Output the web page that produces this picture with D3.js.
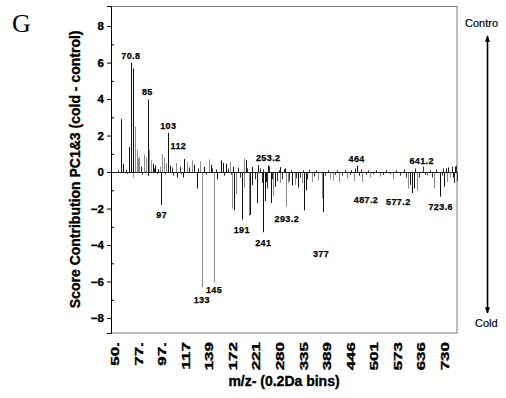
<!DOCTYPE html>
<html>
<head>
<meta charset="utf-8">
<script src="https://cdn.jsdelivr.net/npm/d3@7"></script>
<style>
  body { margin: 0; background: #fff; }
  svg { display: block; }
  text { font-family: "Liberation Sans", Arial, sans-serif; fill: #000; }
  .heavy { stroke: #000; stroke-width: 0.35px; }
</style>
</head>
<body>
<div id="chart"></div>
<script>
// bin positions: one tick label every 10 units
const xTickLabels = ["50.", "77.", "97.", "117", "139", "172", "221", "280", "335", "389", "446", "501", "573", "636", "730"];
const xTickPos = [0, 10, 20, 30, 40, 50, 60, 70, 80, 90, 100, 110, 120, 130, 140];
const yTicks = [-8, -6, -4, -2, 0, 2, 4, 6, 8];

// [bin, score, shade] ; d = dark, g = grey
const upBars = [
  [2.4, 2.9, "d"], [3.5, 0.45, "d"], [6.1, 1.37, "d"], [6.7, 6.0, "d"], [7.8, 5.67, "d"],
  [8.5, 2.5, "g"], [9.2, 1.2, "g"], [9.9, 0.75, "g"], [10.3, 0.8, "g"], [12.4, 0.97, "g"],
  [13.2, 0.8, "g"], [13.9, 3.97, "d"], [14.6, 1.19, "g"], [15.1, 0.64, "g"], [16.0, 0.45, "d"],
  [17.0, 0.37, "d"], [19.1, 0.3, "g"], [20.1, 0.97, "g"], [20.8, 0.8, "g"], [21.6, 0.5, "g"],
  [22.6, 2.15, "d"], [23.3, 0.35, "d"], [25.9, 0.5, "g"], [29.4, 0.72, "d"], [30.7, 0.55, "g"],
  [32.8, 0.64, "g"], [33.5, 0.4, "d"], [36.1, 0.58, "g"], [37.9, 0.3, "d"], [39.9, 0.7, "g"],
  [40.6, 0.4, "d"], [44.8, 0.64, "d"], [45.7, 0.5, "d"], [47.1, 0.45, "d"], [48.8, 0.55, "g"],
  [50.2, 0.3, "d"], [54.7, 0.75, "g"], [55.5, 0.65, "d"], [58.0, 0.27, "d"], [60.8, 0.37, "d"],
  [64.8, 0.37, "d"], [70.0, 0.27, "d"], [72.1, 0.2, "d"], [102.8, 0.35, "d"], [140.3, 0.2, "d"],
  [141.4, 0.25, "d"], [144.3, 0.3, "d"]
];
const downBars = [
  [7.8, -0.3, "g"], [13.9, -0.2, "d"], [19.5, -1.8, "d"], [26.4, -0.3, "d"], [29.0, -0.3, "d"],
  [34.7, -0.9, "d"], [36.8, -6.3, "g"], [42.1, -6.05, "g"], [43.4, -0.4, "d"], [49.8, -2.0, "g"],
  [50.4, -2.1, "d"], [51.2, -1.2, "g"], [53.8, -2.6, "d"], [54.9, -0.85, "g"], [56.9, -2.4, "g"],
  [57.3, -2.35, "d"], [58.2, -0.72, "d"], [60.1, -1.7, "d"], [62.9, -3.3, "d"], [63.6, -1.6, "d"],
  [64.1, -0.55, "d"], [66.1, -1.7, "d"], [67.2, -1.3, "g"], [67.9, -0.8, "d"], [70.2, -0.6, "g"],
  [72.6, -1.9, "g"], [73.5, -0.6, "g"], [75.2, -0.75, "d"], [76.4, -0.7, "g"], [77.5, -0.85, "d"],
  [79.2, -0.6, "g"], [80.3, -2.1, "d"], [80.9, -1.0, "d"], [83.5, -0.55, "g"], [86.3, -0.45, "g"],
  [87.7, -1.45, "g"], [88.1, -2.2, "d"], [91.2, -0.4, "g"], [92.3, -0.45, "g"], [95.0, -0.55, "g"],
  [98.6, -0.35, "g"], [101.4, -0.5, "g"], [105.0, -0.55, "g"], [108.2, -0.3, "g"], [112.4, -0.25, "g"],
  [117.8, -0.4, "g"], [124.4, -0.9, "g"], [125.2, -0.7, "d"], [126.0, -1.15, "d"], [126.9, -0.9, "d"],
  [128.0, -1.0, "g"], [132.3, -0.2, "g"], [135.5, -0.9, "g"], [137.7, -1.35, "d"], [139.6, -0.8, "d"],
  [140.7, -0.55, "g"], [142.1, -0.3, "g"], [143.5, -0.3, "d"]
];
// small peaks along the baseline
const baseFuzz = [
  [1.2, 0.1], [4.5, 0.12], [5.2, -0.1], [11.0, 0.3], [11.6, -0.15], [16.5, 0.2], [17.8, -0.1],
  [18.4, 0.15], [21.0, -0.12], [24.0, 0.25], [24.6, -0.2], [27.5, 0.3], [28.2, -0.1], [31.5, 0.25],
  [35.3, 0.2], [38.6, -0.15], [41.3, 0.2], [43.0, 0.15], [46.4, -0.2], [47.8, 0.2], [49.3, -0.15],
  [52.0, 0.25], [53.0, -0.3], [56.2, 0.2], [59.2, -0.4], [61.5, 0.2], [62.2, -0.6], [63.0, 0.15],
  [64.3, -0.9], [65.4, 0.3], [66.6, -0.4], [68.6, -0.5], [69.4, 0.1], [71.0, -0.4], [71.8, 0.15],
  [74.0, -0.5], [74.6, 0.1], [76.9, -0.35], [78.4, -0.3], [79.8, 0.1], [81.5, -0.4], [82.4, 0.12],
  [84.5, -0.25], [85.2, 0.1], [89.3, -0.2], [90.2, 0.1], [93.5, -0.15], [94.3, 0.1], [96.2, -0.2],
  [97.5, 0.12], [99.5, -0.15], [100.3, 0.1], [101.9, 0.2], [103.6, -0.2], [104.2, 0.15], [106.3, -0.15],
  [107.2, 0.1], [109.5, -0.12], [110.6, 0.1], [113.5, -0.15], [115.0, 0.1], [116.5, -0.12], [119.3, 0.1],
  [120.8, -0.2], [122.5, 0.15], [123.4, -0.3], [127.2, 0.2], [129.0, -0.3], [130.8, 0.3], [131.4, -0.15],
  [133.5, 0.1], [134.4, -0.3], [136.4, 0.15], [138.6, -0.2], [139.2, 0.2], [141.0, -0.5], [142.8, 0.3],
  [143.9, -0.6], [144.6, 0.35], [145.0, -0.5]
];
// [text, bin, score] where the peak label sits
const peakLabels = [
  ["70.8", 6.7, 6.36], ["85", 13.7, 4.38], ["103", 22.6, 2.54], ["112", 26.9, 1.42],
  ["253.2", 65.0, 0.78], ["464", 102.5, 0.75], ["641.2", 130.1, 0.6], ["97", 19.8, -2.36],
  ["133", 36.8, -6.98], ["145", 42.0, -6.43], ["191", 53.8, -3.18], ["241", 62.9, -3.9],
  ["293.2", 72.9, -2.54], ["377", 87.4, -4.49], ["487.2", 106.5, -1.5], ["577.2", 120.2, -1.63],
  ["723.6", 138.2, -1.9]
];

const W = 506, H = 398;
const margin = { left: 111, top: 6 };
const width = 346, height = 327;

const svg = d3.select("#chart").append("svg")
  .attr("width", W)
  .attr("height", H);

svg.append("text")
  .attr("x", 12).attr("y", 32)
  .style("font-family", "'Liberation Serif', 'Times New Roman', serif")
  .style("font-size", "26px")
  .text("G");

const g = svg.append("g")
  .attr("transform", "translate(" + margin.left + "," + margin.top + ")");

const x = d3.scaleLinear().domain([-1.7, 145.1]).range([0, width]);
const y = d3.scaleLinear().domain([-8.82, 9.1]).range([height, 0]);

// frame
g.append("rect")
  .attr("x", 0.5).attr("y", 0.5)
  .attr("width", width - 0.5).attr("height", height - 0.5)
  .attr("fill", "none")
  .attr("stroke", "#7a7a7a");

// Y axis
const yAxis = g.append("g")
  .call(d3.axisLeft(y).tickValues(yTicks).tickSize(4).tickFormat(d3.format("d")));
yAxis.select(".domain").attr("stroke", "#000");
yAxis.selectAll("text")
  .attr("class", "heavy")
  .style("font-size", "11.5px")
  .style("font-weight", "bold")
  .attr("x", -7);
g.append("g")
  .call(d3.axisLeft(y).tickValues([-7, -5, -3, -1, 1, 3, 5, 7]).tickSize(-3).tickFormat(""))
  .select(".domain").remove();

// X tick labels (rotated, stretched along the reading direction)
g.selectAll(".xlab")
  .data(xTickPos)
  .enter()
  .append("text")
  .attr("class", "xlab heavy")
  .attr("transform", (d) => "translate(" + (x(d) + 4) + "," + (height + 9) + ") rotate(-90) scale(1.7,1)")
  .attr("text-anchor", "end")
  .style("font-size", "10px")
  .style("font-weight", "bold")
  .text((d, i) => xTickLabels[i]);

// bars
const shadeColor = { d: "#111", g: "#8c8c8c" };
const bars = g.append("g");
bars.selectAll(".fuzz")
  .data(baseFuzz)
  .enter()
  .append("line")
  .attr("x1", (d) => Math.round(x(d[0])) + 0.5)
  .attr("x2", (d) => Math.round(x(d[0])) + 0.5)
  .attr("y1", y(0))
  .attr("y2", (d) => y(d[1]))
  .attr("stroke", "#333");
bars.selectAll(".bar")
  .data(upBars.concat(downBars))
  .enter()
  .append("line")
  .attr("class", "bar")
  .attr("x1", (d) => Math.round(x(d[0])) + 0.5)
  .attr("x2", (d) => Math.round(x(d[0])) + 0.5)
  .attr("y1", y(0))
  .attr("y2", (d) => y(d[1]))
  .attr("stroke", (d) => shadeColor[d[2]]);

// zero line
g.append("line")
  .attr("x1", 0).attr("x2", width)
  .attr("y1", Math.round(y(0)) + 0.5).attr("y2", Math.round(y(0)) + 0.5)
  .attr("stroke", "#222");

// peak labels
g.selectAll(".peak")
  .data(peakLabels)
  .enter()
  .append("text")
  .attr("class", "peak heavy")
  .attr("x", (d) => x(d[1]))
  .attr("y", (d) => y(d[2]))
  .attr("dy", "0.35em")
  .attr("text-anchor", "middle")
  .style("font-size", "9px")
  .style("font-weight", "bold")
  .style("letter-spacing", "0.4px")
  .style("stroke-width", "0.25px")
  .text((d) => d[0]);

// axis titles
svg.append("text")
  .attr("class", "heavy")
  .attr("transform", "translate(80," + (margin.top + y(0.15)) + ") rotate(-90)")
  .attr("text-anchor", "middle")
  .style("font-size", "14px")
  .style("font-weight", "bold")
  .text("Score Contribution PC1&3 (cold - control)");

svg.append("text")
  .attr("class", "heavy")
  .attr("x", 284).attr("y", 386)
  .attr("text-anchor", "middle")
  .style("font-size", "14px")
  .style("font-weight", "bold")
  .text("m/z- (0.2Da bins)");

// direction arrow on the right
svg.append("defs").append("marker")
  .attr("id", "head")
  .attr("viewBox", "0 0 10 10")
  .attr("refX", 9).attr("refY", 5)
  .attr("markerWidth", 4).attr("markerHeight", 4)
  .attr("orient", "auto-start-reverse")
  .append("path")
  .attr("d", "M0,1L10,5L0,9z")
  .attr("fill", "#000");

svg.append("line")
  .attr("x1", 487.5).attr("x2", 487.5)
  .attr("y1", 36).attr("y2", 313)
  .attr("stroke", "#000")
  .attr("stroke-width", 1.6)
  .attr("marker-start", "url(#head)")
  .attr("marker-end", "url(#head)");

svg.append("text")
  .attr("x", 465).attr("y", 27)
  .style("font-size", "11px")
  .style("stroke", "#000")
  .style("stroke-width", "0.2px")
  .text("Contro");
svg.append("text")
  .attr("x", 475).attr("y", 327)
  .style("font-size", "11px")
  .style("stroke", "#000")
  .style("stroke-width", "0.2px")
  .text("Cold");
</script>
</body>
</html>
